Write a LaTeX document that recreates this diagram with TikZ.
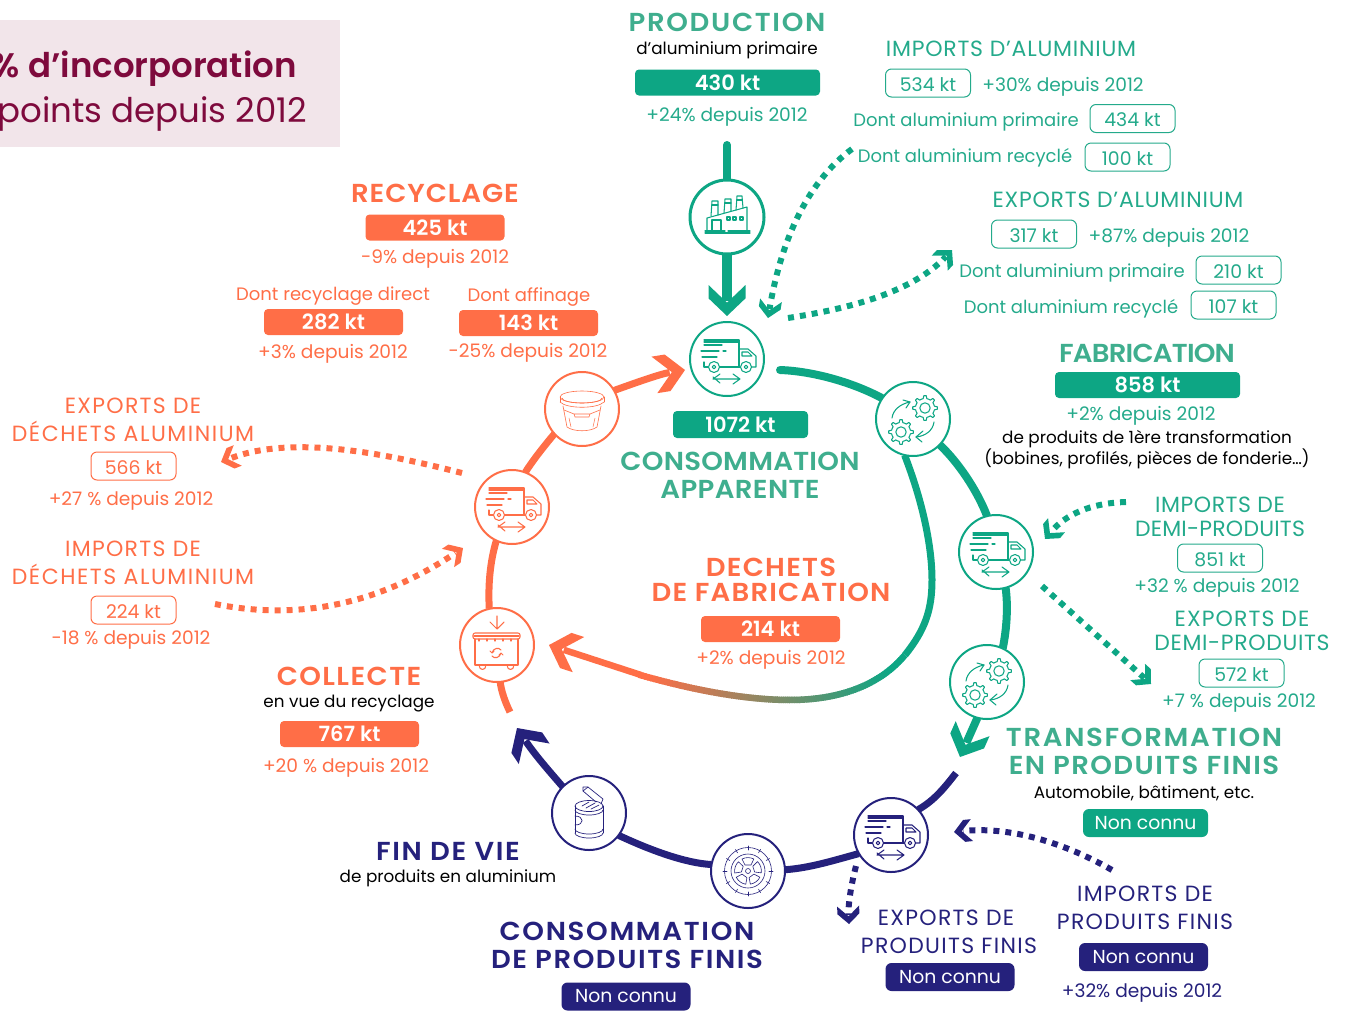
\documentclass[tikz,border=0pt]{standalone}
\usepackage{fontspec}
\setmainfont{Poppins}
\newfontfamily\hfont{Poppins SemiBold}
\usetikzlibrary{arrows.meta}
\definecolor{tealc}{HTML}{0DA684}
\definecolor{tealt}{HTML}{3FAE8E}
\definecolor{teals}{HTML}{24AA8B}
\definecolor{orangec}{HTML}{FF6E47}
\definecolor{navyc}{HTML}{25217C}
\definecolor{maroonc}{HTML}{7E0A3D}
\definecolor{pinkc}{HTML}{F2E5EA}
\newcommand{\fsz}[1]{\fontsize{#1}{#1}\selectfont}
\pgfdeclarearrow{
  name=Chev,
  defaults={length=30pt,width=35pt},
  parameters={\the\pgfarrowlength,\the\pgfarrowwidth},
  setup code={
    \pgfarrowssettipend{0pt}
    \pgfarrowssetbackend{-\pgfarrowlength}
    \pgfarrowssetlineend{-.5\pgfarrowlength}
    \pgfarrowssavethe\pgfarrowlength
    \pgfarrowssavethe\pgfarrowwidth
  },
  drawing code={
    \pgfpathmoveto{\pgfqpoint{0pt}{0pt}}
    \pgfpathlineto{\pgfpoint{-.57\pgfarrowlength}{.5\pgfarrowwidth}}
    \pgfpathlineto{\pgfpoint{-\pgfarrowlength}{.5\pgfarrowwidth}}
    \pgfpathlineto{\pgfpoint{-.43\pgfarrowlength}{0pt}}
    \pgfpathlineto{\pgfpoint{-\pgfarrowlength}{-.5\pgfarrowwidth}}
    \pgfpathlineto{\pgfpoint{-.57\pgfarrowlength}{-.5\pgfarrowwidth}}
    \pgfpathclose
    \pgfusepathqfill
  }
}
\tikzset{
  txt/.style={inner sep=0pt,font=\fsz{18},text=#1,yshift=-2pt},
  dep/.style={font=\fsz{18.6}},
  blk/.style={font=\fsz{16.8}},
  capt/.style 2 args={inner sep=0pt,text=#1,font=\fsz{22}\addfontfeature{LetterSpace=#2},yshift=-.5pt},
  head/.style 2 args={inner sep=0pt,text=#1,font=\fsz{26}\hfont\addfontfeature{FakeStretch=1.06,LetterSpace=#2}},
  fillbox/.style={inner sep=0pt,rounded corners=4pt,fill=#1,text=white,font=\fsz{21}\hfont,minimum width=139pt,minimum height=26pt},
  nonbox/.style={inner sep=0pt,rounded corners=6pt,fill=#1,text=white,font=\fsz{18.8},minimum width=129pt,minimum height=28pt},
  outbox/.style={inner sep=0pt,rounded corners=6pt,draw=#1,line width=1pt,fill=white,text=#1,font=\fsz{18.8},minimum width=85pt,minimum height=28pt,text height=16pt,text depth=0pt},
  circ/.style={circle,draw=#1,fill=white,line width=2pt,minimum size=74pt,inner sep=0pt},
  flow/.style={draw=#1,line width=7pt},
  dotflow/.style={draw=#1,line width=6pt,dash pattern=on 6pt off 6pt},
  bigtip/.style={-{Chev[length=31pt,width=37pt]}},
  smalltip/.style={-{Chev[length=18pt,width=22pt]}},
  ic/.style={draw=#1,line width=1.05pt,line join=round,line cap=round},
  truckicon/.pic={
    \draw (-23,-19)--(12,-19)--(12,8) (-23,-17)--(12,-17);
    \draw (-23,-14)--(-5,-14) (-26,-8)--(-8,-8) (-4,-8)--(-1,-8) (-25,-2)--(-10,-2);
    \draw (-23,3)--(-23,8)--(-19,8) (-7,8)--(13,8);
    \draw (13,-10)--(21,-10)--(29,-3)--(29,8)--(25,8);
    \draw (15,-7)--(21,-7)--(25,-3)--(15,-3)--cycle;
    \draw (-13,8) circle (5.5) (-13,8) circle (1.8) (19,8) circle (5.5) (19,8) circle (1.8);
    \draw (-14,20)--(13,20) (13,20)--(6,15) (-14,18)--(-7,24) (-14,20)--(-7,15) (13,20)--(6,25);
  },
  gearone/.pic={
    \draw plot[domain=0:354.375,samples=64,variable=\t] ({(9.5+2.8*(cos(8*\t)>0))*cos(\t)},{(9.5+2.8*(cos(8*\t)>0))*sin(\t)})--cycle;
    \draw (0,0) circle (5.2);
  },
  gearsicon/.pic={
    \pic at (12,-11) {gearone};
    \pic at (-12,13) {gearone};
    \draw (-21,-1) .. controls (-20,-9) and (-13,-15) .. (-3,-17);
    \draw (-10,-19)--(-3,-17)--(-7,-11);
    \draw (21,3) .. controls (20,11) and (13,17) .. (3,18);
    \draw (10,12)--(3,18)--(9,23);
  },
  factoryicon/.pic={
    \draw (-22,14)--(-2,14) (1,14)--(23,14) (-22,16)--(23,16);
    \draw (-20,14)--(-20,1)--(20,-10)--(20,14);
    \draw (-16,-1)--(-15,-16)--(-9,-16)--(-9,-2);
    \draw (-3,-4)--(-2,-18)--(4,-18)--(4,-6);
    \draw (9,-7)--(10,-21)--(15,-21)--(16,-9);
    \draw (-15,-12)--(-9,-12) (-2,-14)--(4,-14) (10,-17)--(15,-17);
    \draw (-15,14)--(-15,3)--(-6,3)--(-6,14);
    \draw (0,0) rectangle (3,3) (6,0) rectangle (9,3) (13,0) rectangle (16,3);
  },
  binicon/.pic={
    \draw (0,-29)--(0,-17) (-7,-23)--(0,-16)--(7,-23);
    \draw[rounded corners=2pt] (-24,-6)--(-24,-12)--(23,-12)--(23,-6)--cycle;
    \draw (-23,-9)--(22,-9);
    \draw (-22,-6)--(-22,20)--(21,20)--(21,-6);
    \draw (-18,-6)--(-18,-4) (-10,-6)--(-10,-4) (-2,-6)--(-2,-4) (6,-6)--(6,-4) (14,-6)--(14,-4);
    \draw (-18,20) .. controls (-18,26) and (-11,26) .. (-11,20);
    \draw (10,20) .. controls (10,26) and (17,26) .. (17,20);
    \draw (4,5) .. controls (2,2) and (-4,3) .. (-5,8) (-7,6)--(-5,8)--(-3,6);
    \draw (-5,11) .. controls (-3,14) and (3,13) .. (4,8) (2,10)--(4,8)--(6,10);
  },
  bucketicon/.pic={
    \draw (0,-12) ellipse (22 and 6);
    \draw (-20,-11) arc (180:0:20 and 5);
    \draw (-22,-12)--(-22,-7) (22,-12)--(22,-7);
    \draw (-22,-7) .. controls (-15,0) and (15,0) .. (22,-7);
    \draw (-19,-3)--(-15,18) .. controls (-8,23) and (8,23) .. (15,18)--(19,-3);
    \draw (-8,5)--(8,5)--(7,8)--(-7,8)--cycle (-18,1)--(-8,5) (18,1)--(8,5);
    \draw[line width=.5pt] (-13,9)--(-11,18) (13,9)--(11,18);
  },
  tireicon/.pic={
    \draw (0,0) circle (23.5) (0,0) circle (17) (0,0) circle (2.5);
    \foreach \a in {0,30,...,330}{\draw (\a:21)--(\a:25);}
    \foreach \a in {18,90,162,234,306}{
      \draw[rotate=\a] (6,-3)--(12,-6) arc (-27:27:13)--(6,3)--cycle;
    }
  },
  canicon/.pic={
    \draw (0,-7) ellipse (14 and 5.5);
    \draw (-14,-7)--(-14,20) (14,-7)--(14,20);
    \draw (-14,20) arc (180:0:14 and 5);
    \draw (-14,-3) arc (180:0:14 and 5);
    \draw (-14,16) arc (180:0:14 and 5);
    \draw (-7,-7)--(0,-11) (-3,-5)--(6,-10) (2,-4)--(10,-8);
    \draw (-14,3) .. controls (-5,3) and (-4,12) .. (-14,12);
    \draw (12,-9)--(14,-14)--(-1,-26)--(-6,-26)--(-6,-22)--(7,-11);
    \draw (-6,-22)--(-1,-26);
  }
}
\begin{document}
\begin{tikzpicture}[x=1pt,y=-1pt]
\useasboundingbox (0,0) rectangle (1346,1010);
% banner
\begin{scope}
\clip (0,0) rectangle (1346,1010);
\fill[pinkc] (0,20) rectangle (340,147);
\node[anchor=east,inner sep=0pt,text=maroonc,font=\fsz{34}\hfont] (ban1) at (297,69) {\% d’incorporation};
\node[anchor=east,inner sep=0pt,text=maroonc,font=\fsz{34}] (ban2) at (307,114) {points depuis 2012};
\end{scope}
\path[every node/.style={circle,minimum size=74pt,inner sep=0pt}]
 (727,217) node (fac) {} (727,359) node (tk1) {} (913,419) node (ge1) {}
 (996,552) node (tk2) {} (987,682) node (ge2) {} (891,835) node (tk3) {}
 (748,871) node (tire) {} (589,813) node (can) {} (497,645) node (bin) {}
 (512,507) node (tk4) {} (582,409) node (buck) {};
% free ends
\coordinate (pstart) at (727,145);
\coordinate (t1s) at (780,370);
\coordinate (g2tip) at (960,757);
\coordinate (t3s) at (956,773);
\coordinate (cantip) at (517,728);
\coordinate (bins) at (510,712);
\coordinate (bucktip) at (685,370);
\coordinate (imp1) at (852,149);
\coordinate (exp1s) at (788,318);
\coordinate (exp1t) at (952,250);
\coordinate (imp1t) at (768,318);
\coordinate (imp2s) at (1126,502);
\coordinate (imp2t) at (1045,539);
\coordinate (exp2s) at (1042,586);
\coordinate (exp2t) at (1151,684);
\coordinate (imp3s) at (1112,870);
\coordinate (imp3t) at (954,832);
\coordinate (exp3s) at (856,866);
\coordinate (exp3t) at (849,924);
\coordinate (expds) at (462,473);
\coordinate (expdt) at (221,462);
\coordinate (impds) at (215,604);
\coordinate (impdt) at (463,548);
\coordinate (wastetip) at (549,645);
% solid connectors
\draw[flow=tealc,line width=8pt,line cap=round] (pstart)--(fac);
\draw[flow=tealc,line width=9.5pt,bigtip] (fac)--(727,316);
\draw[flow=tealc,line cap=round,line width=8pt] (t1s) .. controls (810,371) and (850,381) .. (ge1.146);
\draw[flow=tealc,line width=8pt] (ge1.-44) .. controls (958,462) and (977,490) .. (tk2.104);
\draw[flow=tealc,line width=8pt] (tk2.-75) .. controls (1008,605) and (1007,628) .. (ge2.65);
\draw[flow=tealc,line width=8pt,bigtip] (ge2.-105)--(g2tip);
\draw[flow=navyc] (t3s) .. controls (945,787) and (935,800) .. (tk3.43);
\draw[flow=navyc] (tk3.-150) .. controls (835,860) and (810,868) .. (tire.2);
\draw[flow=navyc] (tire.170) .. controls (685,863) and (650,850) .. (can.-37);
\draw[flow=navyc,bigtip] (can.135) .. controls (550,772) and (535,755) .. (cantip);
\draw[flow=orangec] (bins) .. controls (505,702) and (501,690) .. (bin.-85);
\draw[flow=orangec] (bin.102) .. controls (488,585) and (490,562) .. (tk4.-115);
\draw[flow=orangec] (tk4.69) .. controls (533,460) and (545,445) .. (buck.-138);
\draw[flow=orangec,bigtip] (buck.30) .. controls (635,383) and (660,374) .. (bucktip);
% waste stream: teal part, colour-mixed part
\draw[flow=tealc] (ge1.-103) .. controls (922,500) and (932,545) .. (932,580) .. controls (932,610) and (925,630) .. (905,655);
\foreach \i in {0,...,59}{
  \pgfmathsetmacro\ta{\i/60}
  \pgfmathsetmacro\tb{(\i+1.4)/60}
  \pgfmathsetmacro\xa{(1-\ta)^3*905+3*(1-\ta)^2*\ta*880+3*(1-\ta)*\ta^2*840+\ta^3*790}
  \pgfmathsetmacro\ya{(1-\ta)^3*655+3*(1-\ta)^2*\ta*685+3*(1-\ta)*\ta^2*700+\ta^3*700}
  \pgfmathsetmacro\xb{(1-\tb)^3*905+3*(1-\tb)^2*\tb*880+3*(1-\tb)*\tb^2*840+\tb^3*790}
  \pgfmathsetmacro\yb{(1-\tb)^3*655+3*(1-\tb)^2*\tb*685+3*(1-\tb)*\tb^2*700+\tb^3*700}
  \pgfmathsetmacro\m{max(0,min(100,(\xa-650)/2.4))}
  \draw[line width=6.5pt,color=tealc!\m!orangec] (\xa,\ya)--(\xb,\yb);
}
\foreach \i in {0,...,59}{
  \pgfmathsetmacro\ta{\i/60}
  \pgfmathsetmacro\tb{(\i+1.4)/60}
  \pgfmathsetmacro\xa{(1-\ta)^3*790+3*(1-\ta)^2*\ta*750+3*(1-\ta)*\ta^2*700+\ta^3*640}
  \pgfmathsetmacro\ya{(1-\ta)^3*700+3*(1-\ta)^2*\ta*700+3*(1-\ta)*\ta^2*692+\ta^3*675}
  \pgfmathsetmacro\xb{(1-\tb)^3*790+3*(1-\tb)^2*\tb*750+3*(1-\tb)*\tb^2*700+\tb^3*640}
  \pgfmathsetmacro\yb{(1-\tb)^3*700+3*(1-\tb)^2*\tb*700+3*(1-\tb)*\tb^2*692+\tb^3*675}
  \pgfmathsetmacro\m{max(0,min(100,(\xa-650)/2.4))}
  \draw[line width=6.5pt,color=tealc!\m!orangec] (\xa,\ya)--(\xb,\yb);
}
\draw[flow=orangec,line width=6.5pt,bigtip] (641,675)--(wastetip);
% dotted connectors
\draw[dotflow=tealc,smalltip] (imp1) .. controls (810,180) and (782,235) .. (imp1t);
\draw[dotflow=tealc,smalltip] (exp1s) .. controls (840,310) and (910,295) .. (exp1t);
\draw[dotflow=tealc,smalltip] (imp2s) .. controls (1090,503) and (1065,515) .. (imp2t);
\draw[dotflow=tealc,smalltip] (exp2s)--(exp2t);
\draw[dotflow=navyc,smalltip] (imp3s) .. controls (1065,843) and (1010,826) .. (imp3t);
\draw[dotflow=navyc,smalltip] (exp3s) .. controls (851,885) and (848,905) .. (exp3t);
\draw[dotflow=orangec,smalltip] (expds) .. controls (380,452) and (290,435) .. (expdt);
\draw[dotflow=orangec,smalltip] (impds) .. controls (320,625) and (400,590) .. (impdt);
% circles
\node[circ=tealc,line width=3pt] (fac2) at (fac) {};
\node[circ=tealc] (tk1b) at (tk1) {};
\node[circ=tealc] (ge1b) at (ge1) {};
\node[circ=tealc] (tk2b) at (tk2) {};
\node[circ=tealc] (ge2b) at (ge2) {};
\node[circ=navyc] (tk3b) at (tk3) {};
\node[circ=navyc] (tireb) at (tire) {};
\node[circ=navyc] (canb) at (can) {};
\node[circ=orangec] (binb) at (bin) {};
\node[circ=orangec] (tk4b) at (tk4) {};
\node[circ=orangec] (buckb) at (buck) {};
% icons
\pic[ic=tealc] at (fac) {factoryicon};
\pic[ic=tealc] at (tk1) {truckicon};
\pic[ic=tealc] at (ge1) {gearsicon};
\pic[ic=tealc] at (tk2) {truckicon};
\pic[ic=tealc] at (ge2) {gearsicon};
\pic[ic=navyc] at (tk3) {truckicon};
\pic[ic=navyc,line width=.6pt] at (tire) {tireicon};
\pic[ic=navyc,line width=.7pt] at (can) {canicon};
\pic[ic=orangec] at (bin) {binicon};
\pic[ic=orangec] at (tk4) {truckicon};
\pic[ic=orangec,line width=.6pt] at (buck) {bucketicon};
% production
\node[head={tealt}{6.5}] (a1) at (727,22) {PRODUCTION};
\node[txt=black,blk] (a2) at (727,48) {d’aluminium primaire};
\node[fillbox=tealc,minimum width=185pt] (a3) at (727.5,82.5) {430 kt};
\node[txt=teals,dep] (a4) at (727,115) {+24\% depuis 2012};
% imports alu
\node[capt={teals}{3.5}] (b1) at (1011,48) {IMPORTS D’ALUMINIUM};
\node[outbox=teals] (b2) at (928,83) {534 kt};
\node[txt=teals,dep] (b3) at (1063,85) {+30\% depuis 2012};
\node[txt=teals] (b4) at (966,120) {Dont aluminium primaire};
\node[outbox=teals] (b5) at (1132.5,118.5) {434 kt};
\node[txt=teals] (b6) at (965,156) {Dont aluminium recyclé};
\node[outbox=teals] (b7) at (1127.5,157) {100 kt};
% exports alu
\node[capt={teals}{3.5}] (c1) at (1118,199) {EXPORTS D’ALUMINIUM};
\node[outbox=teals] (c2) at (1034,234) {317 kt};
\node[txt=teals,dep] (c3) at (1169,236) {+87\% depuis 2012};
\node[txt=teals] (c4) at (1072,271) {Dont aluminium primaire};
\node[outbox=teals] (c5) at (1238.5,270) {210 kt};
\node[txt=teals] (c6) at (1071,307) {Dont aluminium recyclé};
\node[outbox=teals] (c7) at (1233.5,305) {107 kt};
% fabrication
\node[head={tealt}{-3}] (d1) at (1147,353) {FABRICATION};
\node[fillbox=tealc,minimum width=185pt] (d2) at (1147.5,385) {858 kt};
\node[txt=teals,dep] (d3) at (1141,414) {+2\% depuis 2012};
\node[txt=black,blk] (d4) at (1147,437) {de produits de 1ère transformation};
\node[txt=black,blk] (d5) at (1147,457) {(bobines, profilés, pièces de fonderie…)};
% demi-produits
\node[capt={teals}{2.5}] (e1) at (1220,504) {IMPORTS DE};
\node[capt={teals}{1}] (e2) at (1220,528) {DEMI-PRODUITS};
\node[outbox=teals] (e3) at (1220,558) {851 kt};
\node[txt=teals,dep] (e4) at (1217,586) {+32 \% depuis 2012};
\node[capt={teals}{5}] (f1) at (1242,618) {EXPORTS DE};
\node[capt={teals}{3}] (f2) at (1242,642) {DEMI-PRODUITS};
\node[outbox=teals] (f3) at (1241.5,673) {572 kt};
\node[txt=teals,dep] (f4) at (1239,701) {+7 \% depuis 2012};
% transformation
\node[head={tealt}{6.5}] (g1) at (1144,737) {TRANSFORMATION};
\node[head={tealt}{5.5}] (g2) at (1144,765) {EN PRODUITS FINIS};
\node[txt=black,blk] (g3) at (1144,791) {Automobile, bâtiment, etc.};
\node[nonbox=tealc,minimum width=125pt] (g4) at (1145.5,823) {Non connu};
% imports finis
\node[capt={navyc}{6}] (h1) at (1145,893) {IMPORTS DE};
\node[capt={navyc}{6}] (h2) at (1145,921) {PRODUITS FINIS};
\node[nonbox=navyc] (h3) at (1143.5,957) {Non connu};
\node[txt=navyc,dep] (h4) at (1142,991) {+32\% depuis 2012};
% exports finis
\node[capt={navyc}{6}] (i1) at (946,917) {EXPORTS DE};
\node[capt={navyc}{6}] (i2) at (949,945) {PRODUITS FINIS};
\node[nonbox=navyc] (i3) at (950,977) {Non connu};
% conso finis
\node[head={navyc}{6.5}] (j1) at (627,931) {CONSOMMATION};
\node[head={navyc}{6}] (j2) at (627,959) {DE PRODUITS FINIS};
\node[nonbox=navyc] (j3) at (626,996.5) {Non connu};
% fin de vie
\node[head={navyc}{6.5}] (k1) at (448,851) {FIN DE VIE};
\node[txt=black,blk] (k2) at (448,876) {de produits en aluminium};
% collecte
\node[head={orangec}{5.5}] (l1) at (349,676) {COLLECTE};
\node[txt=black,blk] (l2) at (349,702) {en vue du recyclage};
\node[fillbox=orangec] (l3) at (349.5,734) {767 kt};
\node[txt=orangec,dep] (l4) at (346,766) {+20 \% depuis 2012};
% dechets alu
\node[capt={orangec}{6}] (m1) at (133,548) {IMPORTS DE};
\node[capt={orangec}{7}] (m2) at (133,574) {DÉCHETS ALUMINIUM};
\node[outbox=orangec] (m3) at (133.5,610) {224 kt};
\node[txt=orangec,dep] (m4) at (131,638) {-18 \% depuis 2012};
\node[capt={orangec}{6}] (n1) at (133,405) {EXPORTS DE};
\node[capt={orangec}{7}] (n2) at (133,431) {DÉCHETS ALUMINIUM};
\node[outbox=orangec] (n3) at (133.5,466) {566 kt};
\node[txt=orangec,dep] (n4) at (131,499) {+27 \% depuis 2012};
% recyclage
\node[head={orangec}{3.5}] (o1) at (435,193) {RECYCLAGE};
\node[fillbox=orangec] (o2) at (435,227.5) {425 kt};
\node[txt=orangec,dep] (o3) at (435,257) {-9\% depuis 2012};
\node[txt=orangec] (o4) at (333,294) {Dont recyclage direct};
\node[fillbox=orangec] (o5) at (333.5,322) {282 kt};
\node[txt=orangec,dep] (o6) at (333,352) {+3\% depuis 2012};
\node[txt=orangec] (o7) at (529,295) {Dont affinage};
\node[fillbox=orangec] (o8) at (528.5,323) {143 kt};
\node[txt=orangec,dep] (o9) at (528,351) {-25\% depuis 2012};
% conso apparente
\node[fillbox=tealc,minimum width=135pt,minimum height=27pt] (p1) at (740.5,424.5) {1072 kt};
\node[head={tealt}{1}] (p2) at (740,461) {CONSOMMATION};
\node[head={tealt}{1.5}] (p3) at (740,489) {APPARENTE};
% dechets fab
\node[head={orangec}{5}] (q1) at (771,567) {DECHETS};
\node[head={orangec}{4.5}] (q2) at (771,592) {DE FABRICATION};
\node[fillbox=orangec] (q3) at (770.5,629) {214 kt};
\node[txt=orangec,dep] (q4) at (771,658) {+2\% depuis 2012};
\end{tikzpicture}
\end{document}
